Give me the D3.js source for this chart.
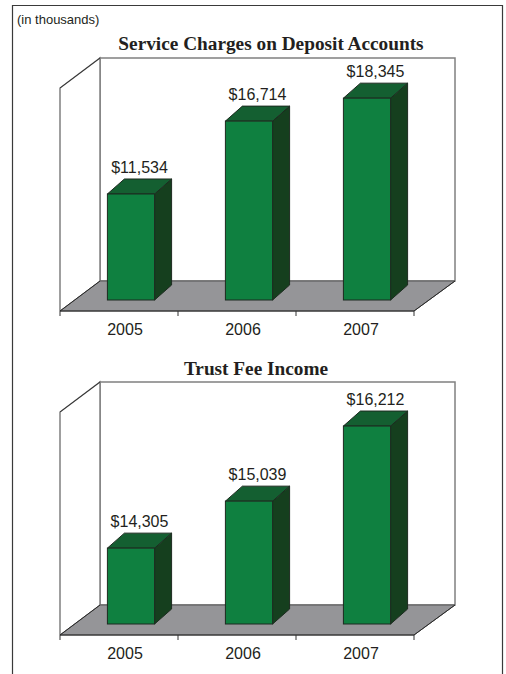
<!DOCTYPE html>
<html>
<head>
<meta charset="utf-8">
<script src="https://cdn.jsdelivr.net/npm/d3@7"></script>
<style>
  html, body { margin: 0; padding: 0; background: #fff; }
  svg { display: block; }
</style>
</head>
<body>
<div id="chart"></div>
<script>
// ---- data ----
const years = ["2005", "2006", "2007"];
const serviceCharges = [11534, 16714, 18345];
const trustFees = [14305, 15039, 16212];
const titles = ["Service Charges on Deposit Accounts", "Trust Fee Income"];
const unitNote = "(in thousands)";
// value-axis domains (axis does not start at zero in the original)
const serviceDomain = [4000, 21200];
const trustDomain = [13120, 16900];

const W = 506, H = 674;
const svg = d3.select("#chart").append("svg").attr("width", W).attr("height", H);

// outer frame (left, top, right)
svg.append("path")
  .attr("d", `M12.5,${H} L12.5,5.5 L502.5,5.5 L502.5,${H}`)
  .attr("fill", "none").attr("stroke", "#3a3a3a").attr("stroke-width", 1.2);

svg.append("text").attr("x", 17).attr("y", 24)
  .attr("font-family", "Liberation Sans, Arial, sans-serif").attr("font-size", 13)
  .attr("fill", "#231f20").text(unitNote);

const fmt = v => "$" + d3.format(",")(v);

function drawChart(g, values, domain, title, titleX, titleY) {
  // geometry of the 3D box (relative to group)
  const floorFrontY = 311, floorBackY = 281, wallTop = 58;
  const frontL = 60, frontR = 414, depthX = 40, depthY = floorFrontY - floorBackY;
  const backL = frontL + depthX, backR = frontR + depthX + 1;
  const barBase = floorFrontY - 11;
  const barDX = 17, barDY = -15;

  g.append("text").attr("x", titleX).attr("y", titleY).attr("text-anchor", "middle")
    .attr("font-family", "Liberation Serif, Times New Roman, serif")
    .attr("font-weight", "bold").attr("font-size", 19.3).attr("fill", "#231f20")
    .text(title);

  // back wall
  g.append("rect").attr("x", backL).attr("y", wallTop)
    .attr("width", backR - backL).attr("height", floorBackY - wallTop)
    .attr("fill", "#fff").attr("stroke", "#808080").attr("stroke-width", 1.5);
  // left wall
  g.append("path")
    .attr("d", `M${frontL},${floorFrontY} L${frontL},${wallTop + depthY} L${backL},${wallTop} L${backL},${floorBackY}`)
    .attr("fill", "#fff").attr("stroke", "#808080").attr("stroke-width", 1.5);
  g.append("line").attr("x1", frontL).attr("y1", wallTop + depthY).attr("x2", backL).attr("y2", wallTop)
    .attr("stroke", "#333").attr("stroke-width", 1);
  // floor
  g.append("path")
    .attr("d", `M${frontL},${floorFrontY} L${backL},${floorBackY} L${backR},${floorBackY} L${frontR},${floorFrontY} Z`)
    .attr("fill", "#959598").attr("stroke", "#555").attr("stroke-width", 1);
  g.append("path")
    .attr("d", `M${frontL},${floorFrontY} L${backL},${floorBackY} M${frontL},${floorFrontY} L${frontR},${floorFrontY} L${backR},${floorBackY}`)
    .attr("fill", "none").attr("stroke", "#2a2a2a").attr("stroke-width", 1);

  // category axis along the front floor edge
  const xCat = d3.scaleBand().domain(years).range([frontL, frontR]);
  const tickXs = years.map(y => xCat(y)).concat([frontR]);
  g.selectAll("line.tick").data(tickXs).join("line").attr("class", "tick")
    .attr("x1", d => d).attr("x2", d => d).attr("y1", floorFrontY).attr("y2", floorFrontY + 5)
    .attr("stroke", "#333").attr("stroke-width", 1);
  g.selectAll("text.year").data(years).join("text").attr("class", "year")
    .attr("x", d => xCat(d) + xCat.bandwidth() / 2 + 6).attr("y", floorFrontY + 24)
    .attr("text-anchor", "middle")
    .attr("font-family", "Liberation Sans, Arial, sans-serif").attr("font-size", 16)
    .attr("fill", "#231f20").text(d => d);

  // bars
  const xBar = d3.scaleBand().domain(years).range([frontL + 12, frontR + 12])
    .paddingInner(0.6).paddingOuter(0.3);
  const y = d3.scaleLinear().domain(domain).range([barBase, wallTop]);
  const w = xBar.bandwidth();
  const data = years.map((yr, i) => ({ yr, v: values[i] }));

  const bars = g.selectAll("g.bar").data(data).join("g").attr("class", "bar");
  const stroke = "#1d2b20";
  bars.append("path") // side
    .attr("d", d => {
      const x = xBar(d.yr), t = y(d.v);
      return `M${x + w},${t} L${x + w + barDX},${t + barDY} L${x + w + barDX},${barBase + barDY} L${x + w},${barBase} Z`;
    })
    .attr("fill", "#153f1e").attr("stroke", stroke).attr("stroke-width", 1).attr("stroke-linejoin", "round");
  bars.append("path") // top
    .attr("d", d => {
      const x = xBar(d.yr), t = y(d.v);
      return `M${x},${t} L${x + barDX},${t + barDY} L${x + w + barDX},${t + barDY} L${x + w},${t} Z`;
    })
    .attr("fill", "#145f31").attr("stroke", stroke).attr("stroke-width", 1).attr("stroke-linejoin", "round");
  bars.append("rect") // front
    .attr("x", d => xBar(d.yr)).attr("y", d => y(d.v))
    .attr("width", w).attr("height", d => barBase - y(d.v))
    .attr("fill", "#0f8040").attr("stroke", stroke).attr("stroke-width", 1);
  bars.append("text")
    .attr("x", d => xBar(d.yr) + w / 2 + barDX / 2).attr("y", d => y(d.v) + barDY - 6)
    .attr("text-anchor", "middle")
    .attr("font-family", "Liberation Sans, Arial, sans-serif").attr("font-size", 16)
    .attr("fill", "#231f20").text(d => fmt(d.v));
}

drawChart(svg.append("g").attr("transform", "translate(0,0)"),
  serviceCharges, serviceDomain, titles[0], 271, 50);
drawChart(svg.append("g").attr("transform", "translate(0,324)"),
  trustFees, trustDomain, titles[1], 256, 51);
</script>
</body>
</html>
